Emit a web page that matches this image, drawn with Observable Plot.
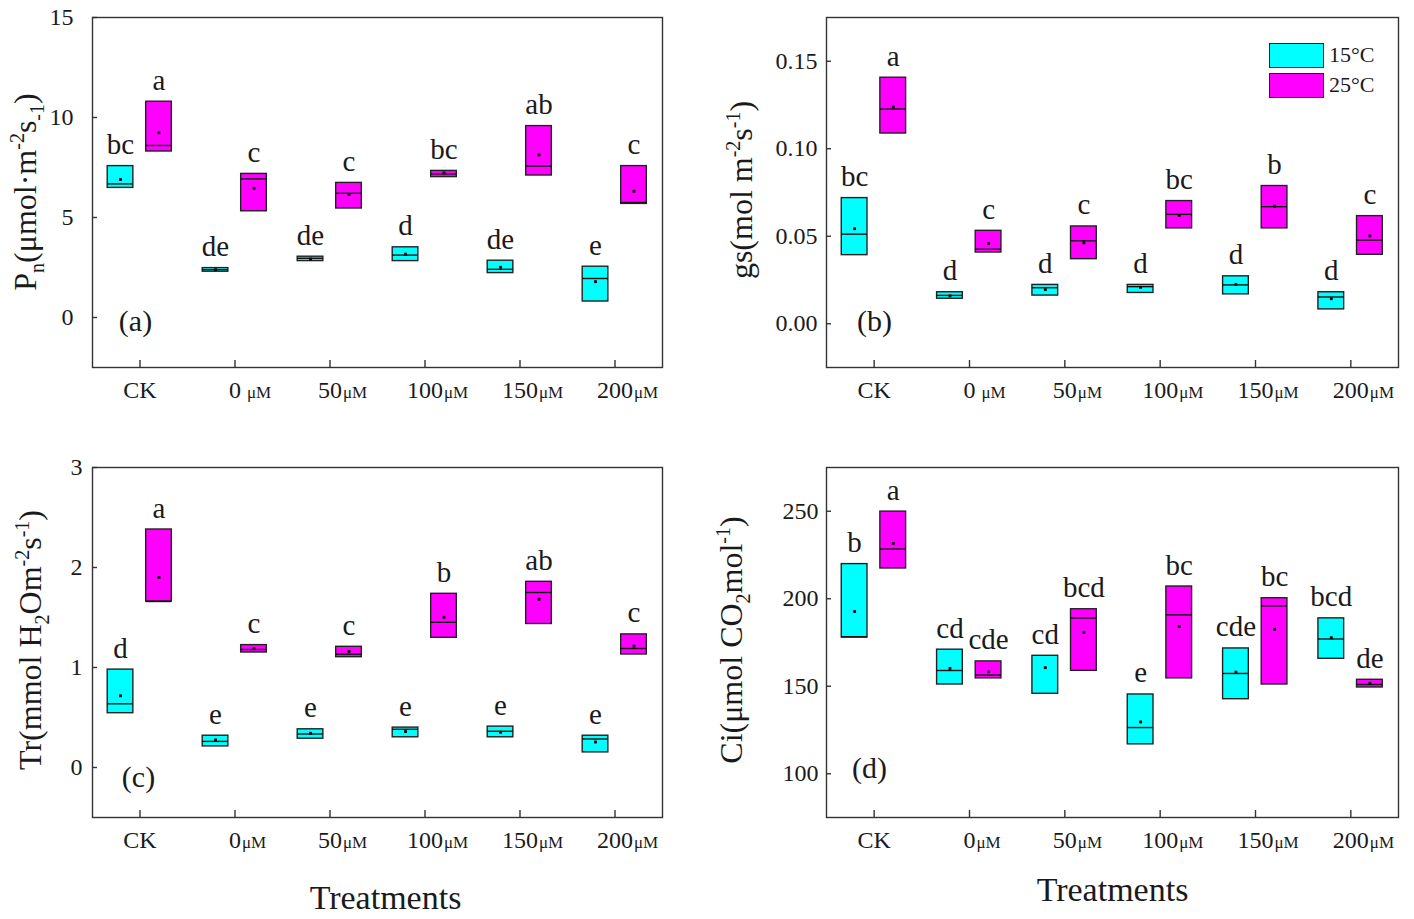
<!DOCTYPE html>
<html><head><meta charset="utf-8">
<script src="https://cdn.jsdelivr.net/npm/d3@7"></script>
<script src="https://cdn.jsdelivr.net/npm/@observablehq/plot@0.6"></script>
<style>
body{margin:0;background:#fff;}
#fig{position:relative;width:1414px;height:919px;font-family:"Liberation Serif",serif;color:#1a1a1a;overflow:hidden;}
.pan{position:absolute;}
.pan svg{overflow:visible;}
.ylab{position:absolute;white-space:nowrap;font-size:32px;transform:translate(-50%,-50%) rotate(-90deg);line-height:1;}
.ylab sub,.ylab sup{font-size:20px;}
.leg{position:absolute;font-size:22px;}
.leg .row{display:flex;align-items:center;height:30px;}
.leg .sw{width:53px;height:23px;border:1.5px solid #222;margin-right:5px;box-sizing:content-box;}
</style></head><body><div id="fig"></div>
<script>
const treatments = ["CK","0","50","100","150","200"];
const temps = ["15°C","25°C"];
const colors = ["#00ffff","#ff00ff"];

// (a) Pn
const pnLo15 = [6.48, 2.29, 2.82, 2.82, 2.22, 0.80];
const pnHi15 = [7.57, 2.47, 3.04, 3.51, 2.84, 2.54];
const pnMd15 = [6.68, 2.39, 2.96, 3.12, 2.41, 1.95];
const pnMn15 = [6.90, 2.39, 2.92, 3.17, 2.51, 1.79];
const pnLo25 = [8.30, 5.31, 5.45, 7.02, 7.10, 5.68];
const pnHi25 = [10.79, 7.18, 6.73, 7.33, 9.57, 7.57];
const pnMd25 = [8.60, 6.93, 6.21, 7.18, 7.57, 5.75];
const pnMn25 = [9.24, 6.46, 6.15, 7.23, 8.13, 6.31];
const pnLt15 = ["bc","de","de","d","de","e"];
const pnLt25 = ["a","c","c","bc","ab","c"];

// (b) gs
const gsLo15 = [0.0392, 0.0143, 0.0161, 0.0176, 0.0168, 0.0082];
const gsHi15 = [0.0718, 0.0180, 0.0222, 0.0222, 0.0271, 0.0180];
const gsMd15 = [0.0512, 0.0162, 0.0206, 0.0212, 0.0222, 0.0153];
const gsMn15 = [0.0543, 0.0159, 0.0195, 0.0208, 0.0225, 0.0143];
const gsLo25 = [0.1087, 0.0407, 0.0369, 0.0545, 0.0545, 0.0394];
const gsHi25 = [0.1406, 0.0531, 0.0556, 0.0701, 0.0787, 0.0615];
const gsMd25 = [0.1227, 0.0426, 0.0474, 0.0625, 0.0669, 0.0478];
const gsMn25 = [0.1238, 0.0459, 0.0462, 0.0619, 0.0673, 0.0502];
const gsLt15 = ["bc","d","d","d","d","d"];
const gsLt25 = ["a","c","c","bc","b","c"];

// (c) Tr
const trLo15 = [0.543, 0.211, 0.288, 0.302, 0.302, 0.151];
const trHi15 = [0.979, 0.318, 0.382, 0.399, 0.409, 0.318];
const trMd15 = [0.637, 0.261, 0.335, 0.382, 0.362, 0.285];
const trMn15 = [0.717, 0.275, 0.342, 0.359, 0.352, 0.255];
const trLo25 = [1.66, 1.150, 1.103, 1.297, 1.435, 1.130];
const trHi25 = [2.38, 1.224, 1.207, 1.737, 1.857, 1.331];
const trMd25 = [1.66, 1.180, 1.133, 1.452, 1.750, 1.190];
const trMn25 = [1.90, 1.190, 1.160, 1.502, 1.683, 1.214];
const trLt15 = ["d","e","e","e","e","e"];
const trLt25 = ["a","c","c","b","ab","c"];

// (d) Ci
const ciLo15 = [177.8, 151.0, 145.7, 116.8, 142.6, 165.7];
const ciHi15 = [219.8, 170.9, 167.4, 145.3, 171.6, 188.8];
const ciMd15 = [178.3, 159.0, null, 126.4, 157.3, 177.0];
const ciMn15 = [192.7, 160.2, 160.6, 129.6, 158.1, 177.8];
const ciLo25 = [217.3, 154.5, 158.8, 154.5, 151.0, 149.3];
const ciHi25 = [249.8, 164.2, 194.0, 207.0, 200.3, 153.7];
const ciMd25 = [228.4, 156.4, 189.0, 190.8, 195.9, 151.0];
const ciMn25 = [231.6, 158.3, 180.8, 184.1, 182.5, 151.8];
const ciLt15 = ["b","cd","cd","e","cde","bcd"];
const ciLt25 = ["a","cde","bcd","bc","bc","de"];

function build(s15, s25) {
  const out = [];
  treatments.forEach((_, i) => {
    [s15, s25].forEach((s, t) => out.push({
      i, t, temp: temps[t], lo: s[0][i], hi: s[1][i], md: s[2][i], mn: s[3][i], letter: s[4][i]
    }));
  });
  return out;
}

const panels = [
  {id:"a", rows: build([pnLo15,pnHi15,pnMd15,pnMn15,pnLt15],[pnLo25,pnHi25,pnMd25,pnMn25,pnLt25]),
   domain:[-2.5,15], ticks:[0,5,10,15], fmt:d3.format("d"), pad:19, space0:true,
   left:0, top:0, width:707, height:440, mL:92, mT:17, mR:45, mB:73, tag:"(a)", tagDx:43, tagDy:-46, xlab:false},
  {id:"b", rows: build([gsLo15,gsHi15,gsMd15,gsMn15,gsLt15],[gsLo25,gsHi25,gsMd25,gsMn25,gsLt25]),
   domain:[-0.025,0.175], ticks:[0,0.05,0.10,0.15], fmt:d3.format(".2f"), pad:9, space0:true,
   left:707, top:0, width:707, height:440, mL:119, mT:17, mR:16, mB:73, tag:"(b)", tagDx:48, tagDy:-46, xlab:false},
  {id:"c", rows: build([trLo15,trHi15,trMd15,trMn15,trLt15],[trLo25,trHi25,trMd25,trMn25,trLt25]),
   domain:[-0.5,3], ticks:[0,1,2,3], fmt:d3.format("d"), pad:10, space0:false,
   left:0, top:440, width:707, height:479, mL:92, mT:27, mR:45, mB:102, tag:"(c)", tagDx:46, tagDy:-40, xlab:true, xlabDx:8, xlabDy:81},
  {id:"d", rows: build([ciLo15,ciHi15,ciMd15,ciMn15,ciLt15],[ciLo25,ciHi25,ciMd25,ciMn25,ciLt25]),
   domain:[75,275], ticks:[100,150,200,250], fmt:d3.format("d"), pad:8, space0:false,
   left:707, top:440, width:707, height:479, mL:119, mT:27, mR:16, mB:102, tag:"(d)", tagDx:43, tagDy:-49, xlab:true, xlabDx:0, xlabDy:73}
];

const fig = document.getElementById("fig");
const hw = 0.135;
const pos = d => d.i + (d.t === 0 ? -0.205 : 0.2);
const ink = "#1a1a1a";

panels.forEach(p => {
  const pw = p.width - p.mL - p.mR;
  const ph = p.height - p.mT - p.mB;
  const ppu = pw / 6;
  const unitGap = i => (6 * treatments[i].length + 1 + (p.space0 && i === 1 ? 5 : 0)) / ppu;
  const marks = [
    Plot.frame({stroke:"#333", strokeWidth:1.4}),
    Plot.tickX(d3.range(6), {x: d => d, insetTop: ph - 7, stroke:"#333", strokeWidth:1.4}),
    Plot.tickY(p.ticks, {y: d => d, insetRight: pw - 5, stroke:"#333", strokeWidth:1.4}),
    Plot.axisY({ticks: p.ticks, tickSize: 0, tickPadding: p.pad, tickFormat: p.fmt, fontSize: 24, label: null, fill: ink}),
    Plot.axisX({ticks: d3.range(6), tickSize: 0, tickPadding: 13, tickFormat: i => treatments[i], fontSize: 24, label: null, fill: ink}),
    Plot.text(d3.range(1,6), {x: i => i + unitGap(i), frameAnchor:"bottom", text: () => "μM",
      textAnchor:"start", lineAnchor:"top", dy: 18, fontSize: 17, fill: ink}),
    Plot.rect(p.rows, {x1: d => pos(d) - hw, x2: d => pos(d) + hw, y1: "lo", y2: "hi", fill: "temp", stroke:"#222", strokeWidth:1.4}),
    Plot.ruleY(p.rows.filter(d => d.md != null), {x1: d => pos(d) - hw, x2: d => pos(d) + hw, y: "md", stroke:"#111", strokeWidth:1.4}),
    Plot.dot(p.rows, {x: pos, y: "mn", symbol:"square", r: 1.6, fill:"#000"}),
    Plot.text(p.rows, {x: pos, y: "hi", text: "letter", lineAnchor:"bottom", dy: -12, fontSize: 29, fill: ink}),
    Plot.text([p.tag], {frameAnchor:"bottom-left", dx: p.tagDx, dy: p.tagDy, lineAnchor:"middle", textAnchor:"middle", fontSize: 30, fill: ink})
  ];
  if (p.xlab) marks.push(Plot.text(["Treatments"], {frameAnchor:"bottom", dx: p.xlabDx, dy: p.xlabDy, lineAnchor:"middle", fontSize: 34, fill: ink}));
  const svg = Plot.plot({
    width: p.width, height: p.height,
    marginLeft: p.mL, marginTop: p.mT, marginRight: p.mR, marginBottom: p.mB,
    x: {domain: [-0.5, 5.5], axis: null},
    y: {domain: p.domain, axis: null},
    color: {domain: temps, range: colors},
    style: {fontFamily: "Liberation Serif", color: ink, background: "transparent", overflow: "visible"},
    marks
  });
  const div = document.createElement("div");
  div.className = "pan";
  div.style.left = p.left + "px";
  div.style.top = p.top + "px";
  div.appendChild(svg);
  fig.appendChild(div);
});

// y-axis titles
const ylabs = [
  {cx:27, cy:192, html:"P<sub>n</sub>(μmol·m<sup>-2</sup>s<sub>-1</sub>)"},
  {cx:740, cy:190, html:"gs(mol m<sup>-2</sup>s<sup>-1</sup>)"},
  {cx:32, cy:640, html:"Tr(mmol H<sub>2</sub>Om<sup>-2</sup>s<sup>-1</sup>)"},
  {cx:733, cy:640, html:"Ci(μmol CO<sub>2</sub>mol<sup>-1</sup>)"}
];
ylabs.forEach(l => {
  const d = document.createElement("div");
  d.className = "ylab";
  d.style.left = l.cx + "px";
  d.style.top = l.cy + "px";
  d.innerHTML = l.html;
  fig.appendChild(d);
});

// legend
const leg = document.createElement("div");
leg.className = "leg";
leg.style.left = "1269px";
leg.style.top = "40px";
temps.forEach((t, k) => {
  const r = document.createElement("div");
  r.className = "row";
  const sw = document.createElement("div");
  sw.className = "sw";
  sw.style.background = colors[k];
  const tx = document.createElement("span");
  tx.textContent = t;
  r.appendChild(sw); r.appendChild(tx);
  leg.appendChild(r);
});
fig.appendChild(leg);
</script></body></html>
